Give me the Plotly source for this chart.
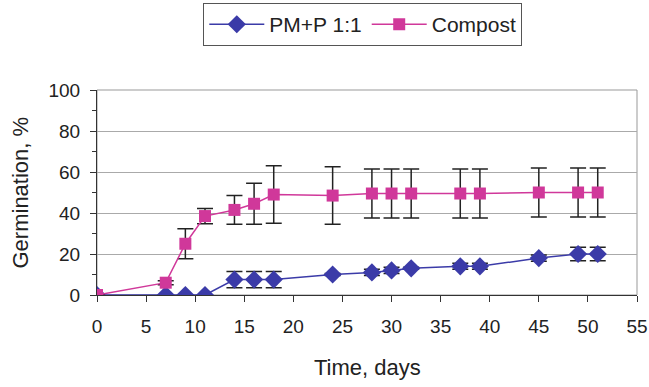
import plotly.graph_objects as go

days = [0, 7, 9, 11, 14, 16, 18, 24, 28, 30, 32, 37, 39, 45, 49, 51]
pm_vals = [0, 0, 0, 0, 7.5, 7.5, 7.5, 10, 11, 12, 13, 14, 14, 18, 20, 20]
pm_err = [0, 0, 0, 0, 4, 4, 4, 0.5, 1.5, 1.5, 0.5, 1.5, 1.5, 1.5, 3.3, 3.3]
compost_vals = [0, 6, 25, 38.5, 41.5, 44.5, 49, 48.5, 49.5, 49.5, 49.5, 49.5, 49.5, 50, 50, 50]
compost_err = [0, 1, 7.3, 3.7, 7, 10, 14, 14, 12, 12, 12, 12, 12, 12, 12, 12]
x_ticks = [0, 5, 10, 15, 20, 25, 30, 35, 40, 45, 50, 55]
y_ticks = [0, 20, 40, 60, 80, 100]

font_family = "Liberation Sans, Arial, sans-serif"

fig = go.Figure()
fig.add_trace(go.Scatter(
    x=days, y=pm_vals, name="PM+P 1:1", mode="lines+markers",
    line=dict(color="#3b3ba8", width=1.5),
    marker=dict(symbol="diamond", size=14, color="#3b3ba8"),
    error_y=dict(type="data", array=pm_err, color="#222222", thickness=1.5, width=8),
))
fig.add_trace(go.Scatter(
    x=days, y=compost_vals, name="Compost", mode="lines+markers",
    line=dict(color="#d0389a", width=1.5),
    marker=dict(symbol="square", size=12, color="#d0389a"),
    error_y=dict(type="data", array=compost_err, color="#222222", thickness=1.5, width=8),
))

fig.update_layout(
    width=649, height=387,
    margin=dict(l=97, r=12, t=90, b=92),
    paper_bgcolor="white", plot_bgcolor="white",
    font=dict(family=font_family, size=19, color="#222222"),
    showlegend=True,
    legend=dict(orientation="h", xref="container", yref="container",
                x=0.559, xanchor="center", y=0.992, yanchor="top",
                bordercolor="#555555", borderwidth=1, font=dict(size=21),
                itemwidth=55, tracegroupgap=0),
    xaxis=dict(range=[0, 55], tickvals=x_ticks, showgrid=False, zeroline=False,
               automargin=False,
               showline=True, linecolor="#333333", linewidth=1, mirror=False,
               ticks="outside", ticklen=6, tickcolor="#333333",
               ticklabelstandoff=8,
               tickfont=dict(size=19)),
    yaxis=dict(range=[0, 100], tickvals=y_ticks, showgrid=True, gridcolor="#aaaaaa",
               automargin=False,
               gridwidth=1, zeroline=False, showline=True, linecolor="#333333",
               linewidth=1, ticks="outside", ticklen=6, tickcolor="#333333",
               ticklabelstandoff=6,
               minor=dict(dtick=10, ticks="outside", ticklen=4, tickcolor="#333333", showgrid=False),
               tickfont=dict(size=19)),
    annotations=[
        dict(text="Time, days", xref="paper", yref="paper", x=0.5, y=-0.356,
             xanchor="center", yanchor="middle", showarrow=False,
             font=dict(size=22, color="#222222")),
        dict(text="Germination, %", xref="paper", yref="paper", x=(20 - 97) / 540, y=0.5,
             xanchor="center", yanchor="middle", showarrow=False, textangle=-90,
             font=dict(size=22, color="#222222")),
    ],
)
# plot area border (top/right)
fig.add_shape(type="rect", xref="paper", yref="paper", x0=0, y0=0, x1=1, y1=1,
              line=dict(color="#999999", width=1), layer="below")

fig.write_html("out.html", config={"displayModeBar": False},
               post_script="document.body.style.margin='0';")
